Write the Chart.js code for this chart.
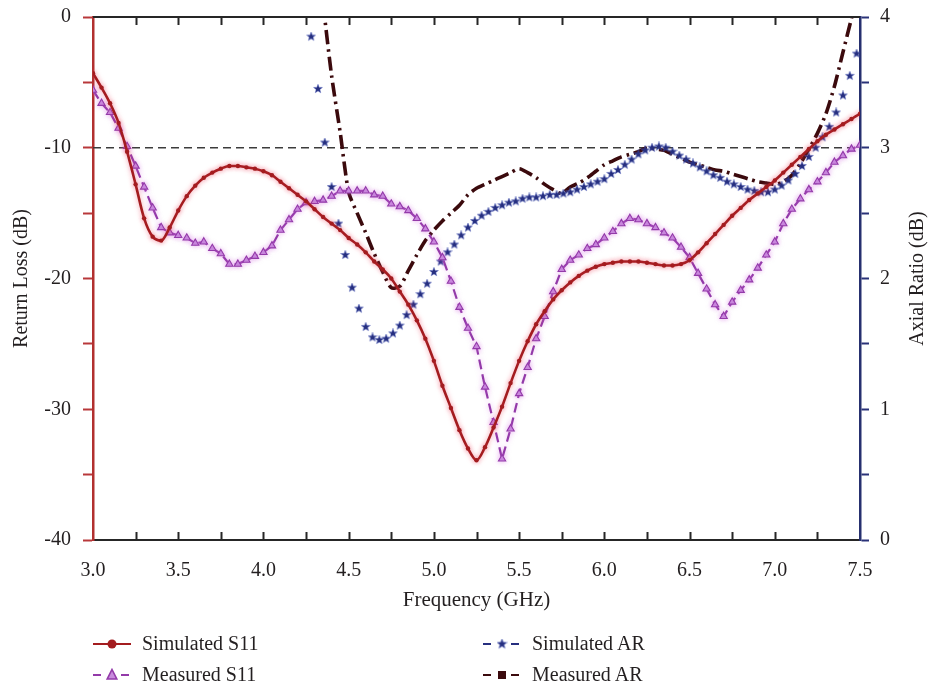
<!DOCTYPE html>
<html>
<head>
<meta charset="utf-8">
<title>Return Loss and Axial Ratio</title>
<script src="https://cdn.jsdelivr.net/npm/chart.js@4.4.1/dist/chart.umd.min.js"></script>
<style>
  html, body { margin: 0; padding: 0; background: #ffffff; }
  #wrap { position: relative; width: 931px; height: 687px; overflow: hidden; }
  #c { position: absolute; left: 0; top: 0; }
  .lg { position: absolute; font-family: 'Liberation Serif', 'DejaVu Serif', serif; font-size: 20px;
        line-height: 20px; color: #231f20; white-space: nowrap; }
  .ic { position: absolute; }
</style>
</head>
<body>
<div id="wrap">
  <canvas id="c" width="931" height="687"></canvas>
  <div id="legend"></div>
</div>
<script>
// Frequency sweep for the S11 curves (GHz)
const freq = [3.00,3.05,3.10,3.15,3.20,3.25,3.30,3.35,3.40,3.45,3.50,3.55,3.60,3.65,3.70,3.75,3.80,3.85,3.90,3.95,
              4.00,4.05,4.10,4.15,4.20,4.25,4.30,4.35,4.40,4.45,4.50,4.55,4.60,4.65,4.70,4.75,4.80,4.85,4.90,4.95,
              5.00,5.05,5.10,5.15,5.20,5.25,5.30,5.35,5.40,5.45,5.50,5.55,5.60,5.65,5.70,5.75,5.80,5.85,5.90,5.95,
              6.00,6.05,6.10,6.15,6.20,6.25,6.30,6.35,6.40,6.45,6.50,6.55,6.60,6.65,6.70,6.75,6.80,6.85,6.90,6.95,
              7.00,7.05,7.10,7.15,7.20,7.25,7.30,7.35,7.40,7.45,7.50];

// Return loss (dB)
const simulatedS11 = [-4.3,-5.4,-6.6,-8.1,-10.3,-12.8,-15.4,-16.8,-17.1,-16.1,-14.8,-13.7,-12.9,-12.3,-11.9,-11.6,-11.4,-11.4,-11.5,-11.6,
                      -11.8,-12.1,-12.6,-13.1,-13.6,-14.1,-14.7,-15.3,-15.8,-16.3,-16.9,-17.4,-18.0,-18.7,-19.3,-20.0,-21.0,-22.0,-23.2,-24.6,
                      -26.3,-28.2,-29.9,-31.6,-33.0,-33.9,-32.9,-31.4,-29.8,-28.0,-26.3,-24.8,-23.5,-22.5,-21.6,-20.9,-20.3,-19.8,-19.4,-19.1,
                      -18.9,-18.8,-18.7,-18.7,-18.7,-18.8,-18.9,-19.0,-19.0,-18.9,-18.6,-18.0,-17.3,-16.6,-15.9,-15.2,-14.6,-14.0,-13.5,-13.0,
                      -12.5,-11.9,-11.3,-10.7,-10.1,-9.5,-9.0,-8.6,-8.2,-7.8,-7.4];
const measuredS11 = [-5.6,-6.6,-7.3,-8.5,-9.9,-11.4,-13.0,-14.6,-16.1,-16.5,-16.7,-16.9,-17.3,-17.2,-17.7,-18.1,-18.9,-18.9,-18.6,-18.3,
                     -18.0,-17.5,-16.3,-15.5,-14.7,-14.2,-14.1,-14.0,-13.7,-13.3,-13.3,-13.3,-13.3,-13.6,-13.7,-14.3,-14.5,-14.8,-15.4,-16.2,
                     -17.2,-18.4,-20.2,-22.2,-23.8,-25.2,-28.3,-31.0,-33.8,-31.5,-28.8,-26.8,-24.6,-22.9,-21.0,-19.3,-18.6,-18.2,-17.7,-17.4,
                     -16.9,-16.4,-15.8,-15.4,-15.5,-15.8,-16.1,-16.5,-16.9,-17.6,-18.4,-19.6,-20.8,-22.0,-22.9,-21.8,-20.9,-20.1,-19.2,-18.2,
                     -17.2,-15.8,-14.7,-13.9,-13.2,-12.6,-11.9,-11.1,-10.6,-10.1,-9.8];

// Frequency sweep for the simulated axial ratio (GHz)
const arFreq = [4.28,4.32,4.36,4.40,4.44,4.48,4.52,4.56,4.60,4.64,4.68,4.72,4.76,4.80,4.84,4.88,4.92,4.96,
                5.00,5.04,5.08,5.12,5.16,5.20,5.24,5.28,5.32,5.36,5.40,5.44,5.48,5.52,5.56,5.60,5.64,5.68,5.72,5.76,5.80,5.84,5.88,5.92,5.96,
                6.00,6.04,6.08,6.12,6.16,6.20,6.24,6.28,6.32,6.36,6.40,6.44,6.48,6.52,6.56,6.60,6.64,6.68,6.72,6.76,6.80,6.84,6.88,6.92,6.96,
                7.00,7.04,7.08,7.12,7.16,7.20,7.24,7.28,7.32,7.36,7.40,7.44,7.48];

// Axial ratio (dB)
const simulatedAR = [3.85,3.45,3.04,2.70,2.42,2.18,1.93,1.77,1.63,1.55,1.53,1.54,1.58,1.64,1.72,1.80,1.88,1.96,
                     2.05,2.13,2.20,2.26,2.33,2.39,2.44,2.48,2.51,2.54,2.56,2.58,2.59,2.61,2.62,2.62,2.63,2.64,2.64,2.65,2.66,2.68,2.70,2.72,2.74,
                     2.76,2.80,2.83,2.87,2.91,2.95,2.98,3.00,3.01,3.00,2.97,2.94,2.91,2.88,2.85,2.82,2.79,2.77,2.74,2.72,2.70,2.68,2.67,2.66,2.66,
                     2.68,2.71,2.75,2.80,2.86,2.93,3.00,3.08,3.16,3.27,3.40,3.55,3.72];
// Measured axial ratio, sampled on freq from 4.35 GHz upward
const measuredARStart = 4.35;
const measuredAR = [4.10,3.55,3.12,2.66,2.50,2.35,2.19,2.05,1.93,1.94,2.06,2.18,2.29,
                    2.37,2.44,2.50,2.56,2.64,2.69,2.72,2.75,2.78,2.81,2.84,2.81,2.77,2.72,2.68,2.65,2.70,2.73,2.77,2.82,
                    2.87,2.90,2.93,2.95,2.97,3.00,2.99,2.98,2.95,2.92,2.89,2.87,2.85,2.83,2.82,2.80,2.78,2.76,2.74,2.73,
                    2.72,2.74,2.79,2.88,2.99,3.11,3.26,3.47,3.73,3.99,4.25];

const seriesNames = ['Simulated S11', 'Measured S11', 'Simulated AR', 'Measured AR'];
const thresholdRL = -10;

const FONT = "'Liberation Serif', 'DejaVu Serif', serif";
const INK = '#231f20';
const RED = '#a31c1f';
const PURPLE = '#933aa9';
const NAVY = '#262f7f';
const MAROON = '#3b0a0d';

const pairs = (xs, ys) => ys.map((v, i) => ({ x: xs[i], y: v }));
const arStartIdx = freq.findIndex(f => Math.abs(f - measuredARStart) < 1e-9);

// Filled five-point star used as the marker of the simulated axial ratio
function makeStar(size, color) {
  const c = document.createElement('canvas');
  c.width = size; c.height = size;
  const g = c.getContext('2d');
  const cx = size / 2, cy = size / 2, ro = size / 2 - 0.3, ri = ro * 0.42;
  g.beginPath();
  for (let i = 0; i < 10; i++) {
    const r = i % 2 === 0 ? ro : ri;
    const a = -Math.PI / 2 + i * Math.PI / 5;
    const px = cx + r * Math.cos(a), py = cy + r * Math.sin(a);
    if (i === 0) g.moveTo(px, py); else g.lineTo(px, py);
  }
  g.closePath();
  g.fillStyle = color;
  g.fill();
  g.strokeStyle = 'rgba(70,90,190,0.55)';
  g.lineWidth = 0.7;
  g.stroke();
  return c;
}
const starImg = makeStar(10, NAVY);

// Soft halo behind the two return-loss traces
const haloPlugin = {
  id: 'halo',
  beforeDatasetDraw(chart, args) {
    if (args.index < 2) {
      chart.ctx.save();
      chart.ctx.shadowColor = args.index === 0 ? 'rgba(235,70,95,0.55)' : 'rgba(215,110,230,0.5)';
      chart.ctx.shadowBlur = 5;
    }
  },
  afterDatasetDraw(chart, args) {
    if (args.index < 2) chart.ctx.restore();
  }
};

// Threshold line, top frame, inward frequency ticks and the right axis title
const framePlugin = {
  id: 'frame',
  beforeDatasetsDraw(chart) {
    const { ctx, chartArea: a, scales } = chart;
    const y = scales.y.getPixelForValue(thresholdRL);
    ctx.save();
    ctx.strokeStyle = '#3c3c3c';
    ctx.lineWidth = 1.6;
    ctx.setLineDash([8, 5]);
    ctx.beginPath();
    ctx.moveTo(a.left, y);
    ctx.lineTo(a.right, y);
    ctx.stroke();
    ctx.restore();
  },
  afterDatasetsDraw(chart) {
    const { ctx, chartArea: a, scales } = chart;
    ctx.save();
    ctx.strokeStyle = '#262626';
    ctx.lineWidth = 2;
    ctx.beginPath();
    ctx.moveTo(a.left, a.top);
    ctx.lineTo(a.right, a.top);
    ctx.stroke();
    const xs = scales.x;
    for (let v = xs.min; v <= xs.max + 1e-9; v += 0.25) {
      const px = Math.round(xs.getPixelForValue(v)) + 0.5;
      if (px < a.left + 2 || px > a.right - 2) continue;
      ctx.beginPath();
      ctx.moveTo(px, a.bottom);
      ctx.lineTo(px, a.bottom - 8);
      ctx.moveTo(px, a.top);
      ctx.lineTo(px, a.top + 8);
      ctx.stroke();
    }
    ctx.restore();
  },
  afterDraw(chart) {
    const { ctx, chartArea: a } = chart;
    ctx.save();
    ctx.fillStyle = INK;
    ctx.font = '20px ' + FONT;
    ctx.textAlign = 'center';
    ctx.textBaseline = 'middle';
    ctx.translate(918, (a.top + a.bottom) / 2);
    ctx.rotate(-Math.PI / 2);
    ctx.fillText('Axial Ratio (dB)', 0, 0);
    ctx.restore();
  }
};

const chart = new Chart(document.getElementById('c'), {
  type: 'line',
  data: {
    datasets: [
      {
        label: seriesNames[0],
        data: pairs(freq, simulatedS11),
        yAxisID: 'y',
        borderColor: RED,
        backgroundColor: RED,
        borderWidth: 2.6,
        pointStyle: 'circle',
        pointRadius: 2.2,
        pointBorderWidth: 0,
        pointBackgroundColor: RED,
        cubicInterpolationMode: 'monotone'
      },
      {
        label: seriesNames[1],
        data: pairs(freq, measuredS11),
        yAxisID: 'y',
        borderColor: PURPLE,
        backgroundColor: '#c78bdc',
        borderWidth: 2.2,
        borderDash: [10, 5],
        pointStyle: 'triangle',
        pointRadius: 4.2,
        pointBorderWidth: 1.1,
        pointBorderColor: PURPLE,
        pointBackgroundColor: '#c78bdc',
        tension: 0
      },
      {
        label: seriesNames[2],
        data: pairs(arFreq, simulatedAR),
        yAxisID: 'y2',
        showLine: false,
        borderColor: NAVY,
        backgroundColor: NAVY,
        pointStyle: starImg
      },
      {
        label: seriesNames[3],
        data: pairs(freq.slice(arStartIdx), measuredAR),
        yAxisID: 'y2',
        borderColor: MAROON,
        borderWidth: 3.6,
        borderDash: [14, 5, 2.5, 5],
        borderCapStyle: 'butt',
        pointRadius: 0,
        tension: 0.25
      }
    ]
  },
  options: {
    responsive: false,
    animation: false,
    devicePixelRatio: 1,
    layout: { padding: { top: 17, left: 0, right: 0, bottom: 74 } },
    plugins: {
      legend: { display: false },
      tooltip: { enabled: false }
    },
    scales: {
      x: {
        type: 'linear',
        position: 'bottom',
        min: 3,
        max: 7.5,
        afterFit(s) { s.height = 73; s.paddingLeft = 0; s.paddingRight = 0; },
        ticks: {
          stepSize: 0.5,
          padding: 19,
          color: INK,
          font: { family: FONT, size: 20 },
          maxRotation: 0,
          callback: v => Number(v).toFixed(1)
        },
        grid: { display: false, drawTicks: false },
        border: { display: true, color: '#262626', width: 2 },
        title: {
          display: true,
          text: 'Frequency (GHz)',
          color: INK,
          font: { family: FONT, size: 21 },
          padding: { top: 0, bottom: 0 }
        }
      },
      y: {
        type: 'linear',
        position: 'left',
        min: -40,
        max: 0,
        afterFit(s) { s.width = 93; s.paddingTop = 0; s.paddingBottom = 0; },
        ticks: {
          stepSize: 5,
          padding: 12,
          color: INK,
          font: { family: FONT, size: 20 },
          callback: v => (v % 10 === 0 ? String(v) : '')
        },
        grid: {
          display: true,
          drawOnChartArea: false,
          drawTicks: true,
          tickLength: 10,
          tickColor: '#b8383a',
          tickWidth: 2,
          color: '#b8383a'
        },
        border: { display: true, color: '#b2302f', width: 2.5 },
        title: {
          display: true,
          text: 'Return Loss (dB)',
          color: INK,
          font: { family: FONT, size: 20 },
          padding: { top: 10, bottom: 0 }
        }
      },
      y2: {
        type: 'linear',
        position: 'right',
        min: 0,
        max: 4,
        afterFit(s) { s.width = 71; s.paddingTop = 0; s.paddingBottom = 0; },
        ticks: {
          stepSize: 0.5,
          padding: 11,
          color: INK,
          font: { family: FONT, size: 20 },
          callback: v => (Number.isInteger(v) ? String(v) : '')
        },
        grid: {
          display: true,
          drawOnChartArea: false,
          drawTicks: true,
          tickLength: 9,
          tickColor: '#2a3278',
          tickWidth: 2,
          color: '#2a3278'
        },
        border: { display: true, color: '#26306f', width: 2.5 }
      }
    }
  },
  plugins: [haloPlugin, framePlugin]
});

// Legend: line + marker icons with the series names
(function buildLegend() {
  const host = document.getElementById('legend');
  const items = [
    { name: seriesNames[0], col: 0, row: 0, color: RED, dash: [], marker: 'circle' },
    { name: seriesNames[2], col: 1, row: 0, color: NAVY, dash: [8, 6], marker: 'star' },
    { name: seriesNames[1], col: 0, row: 1, color: PURPLE, dash: [8, 6], marker: 'triangle' },
    { name: seriesNames[3], col: 1, row: 1, color: MAROON, dash: [8, 6], marker: 'square' }
  ];
  const colX = [93, 483];
  const rowY = [644, 675];
  items.forEach(it => {
    const w = 38, h = 14;
    const cv = document.createElement('canvas');
    cv.width = w; cv.height = h;
    cv.className = 'ic';
    cv.style.left = colX[it.col] + 'px';
    cv.style.top = (rowY[it.row] - h / 2) + 'px';
    const g = cv.getContext('2d');
    g.strokeStyle = it.color;
    g.lineWidth = 1.8;
    g.setLineDash(it.dash);
    g.beginPath();
    g.moveTo(0, h / 2);
    g.lineTo(w, h / 2);
    g.stroke();
    g.setLineDash([]);
    // clear the middle so the marker stands alone on dashed icons
    if (it.dash.length) { g.clearRect(12, 0, 14, h); }
    const cx = w / 2, cy = h / 2;
    g.fillStyle = it.color;
    if (it.marker === 'circle') {
      g.beginPath(); g.arc(cx, cy, 4.5, 0, Math.PI * 2); g.fill();
    } else if (it.marker === 'triangle') {
      g.beginPath(); g.moveTo(cx, cy - 5.5); g.lineTo(cx + 4.8, cy + 4); g.lineTo(cx - 4.8, cy + 4); g.closePath();
      g.fillStyle = '#c78bdc'; g.fill(); g.strokeStyle = it.color; g.lineWidth = 1.6; g.stroke();
    } else if (it.marker === 'star') {
      g.drawImage(makeStar(11, it.color), cx - 5.5, cy - 5.5);
    } else {
      g.fillRect(cx - 4, cy - 4, 8, 8);
    }
    host.appendChild(cv);
    const t = document.createElement('div');
    t.className = 'lg';
    t.textContent = it.name;
    t.style.left = (colX[it.col] + 49) + 'px';
    t.style.top = (rowY[it.row] - 11) + 'px';
    host.appendChild(t);
  });
})();
</script>
</body>
</html>
